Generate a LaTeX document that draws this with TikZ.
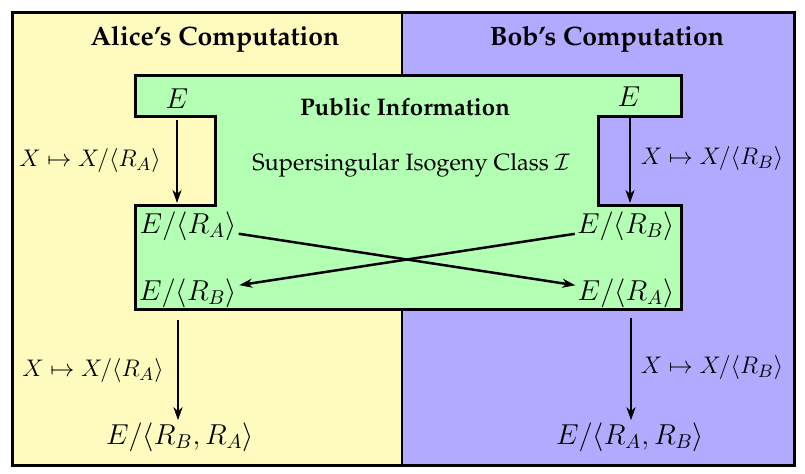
\documentclass[tikz,border=0pt]{standalone}
\usetikzlibrary{arrows.meta}
\newcommand\palfont{\fontencoding{T1}\fontfamily{ppl}\selectfont}
\definecolor{aliceY}{RGB}{255,251,190}
\definecolor{bobB}{RGB}{178,170,255}
\definecolor{pubG}{RGB}{179,255,179}
\begin{document}
\begin{tikzpicture}[x=0.5pt,y=-0.5pt,
  arr/.style={line width=1.25pt,-{Stealth[length=6.5pt,width=4.5pt,inset=2pt]}},
  title/.style={font=\palfont\bfseries\fontsize{13.3}{15}\selectfont},
  pubtitle/.style={font=\palfont\bfseries\fontsize{12}{14}\selectfont},
  sub/.style={font=\palfont\fontsize{11.8}{14}\selectfont},
  lab/.style={font=\fontsize{12.3}{14}\selectfont, inner sep=1pt},
  obj/.style={font=\fontsize{14.5}{17}\selectfont, inner sep=1pt}]
\useasboundingbox (0,0) rectangle (805,473);
% regions
\fill[aliceY] (12,12) rectangle (402,465);
\fill[bobB] (402,12) rectangle (794,465);
\draw[line width=1pt] (402,12) -- (402,465);
\draw[line width=1.5pt] (12,12) rectangle (794,465);
\draw[line width=1.5pt, fill=pubG] (135,75) -- (681,75) -- (681,116) -- (598,116) -- (598,205)
  -- (681,205) -- (681,309) -- (135,309) -- (135,205) -- (215,205) -- (215,116) -- (135,116) -- cycle;
% titles
\node[title] (at) at (215,39) {Alice's Computation};
\node[title] (bt) at (607,39) {Bob's Computation};
\node[pubtitle] (pt) at (405,107) {Public Information};
\node[sub] (st) at (411,165) {Supersingular Isogeny Class $\mathcal{I}$};
% objects
\node[obj] (eL) at (177,99) {$E$};
\node[obj] (eR) at (629,97) {$E$};
\node[obj] (lA) at (188,226) {$E/\langle R_A\rangle$};
\node[obj] (rB) at (626,226) {$E/\langle R_B\rangle$};
\node[obj] (lB) at (188,293) {$E/\langle R_B\rangle$};
\node[obj] (rA) at (626,293) {$E/\langle R_A\rangle$};
\node[obj] (lBA) at (180,437) {$E/\langle R_B, R_A\rangle$};
\node[obj] (rAB) at (630,437) {$E/\langle R_A, R_B\rangle$};
% labels
\node[lab] (l1) at (90,160) {$X\mapsto X/\langle R_A\rangle$};
\node[lab] (r1) at (712,158) {$X\mapsto X/\langle R_B\rangle$};
\node[lab] (l2) at (93,370) {$X\mapsto X/\langle R_A\rangle$};
\node[lab] (r2) at (712,367) {$X\mapsto X/\langle R_B\rangle$};
% arrows
\coordinate (eLs) at (177,120);
\coordinate (eLe) at (177,203);
\coordinate (eRs) at (630,117);
\coordinate (eRe) at (630,203);
\draw[arr] (eLs) -- (eLe);
\draw[arr] (eRs) -- (eRe);
\draw[arr] (lA) -- (rA);
\draw[arr] (rB) -- (lB);
\coordinate (bLs) at (178,320);
\coordinate (bRs) at (631,318);
\draw[arr] (bLs) -- (bLs |- lBA.north);
\draw[arr] (bRs) -- (bRs |- rAB.north);
\end{tikzpicture}
\end{document}
